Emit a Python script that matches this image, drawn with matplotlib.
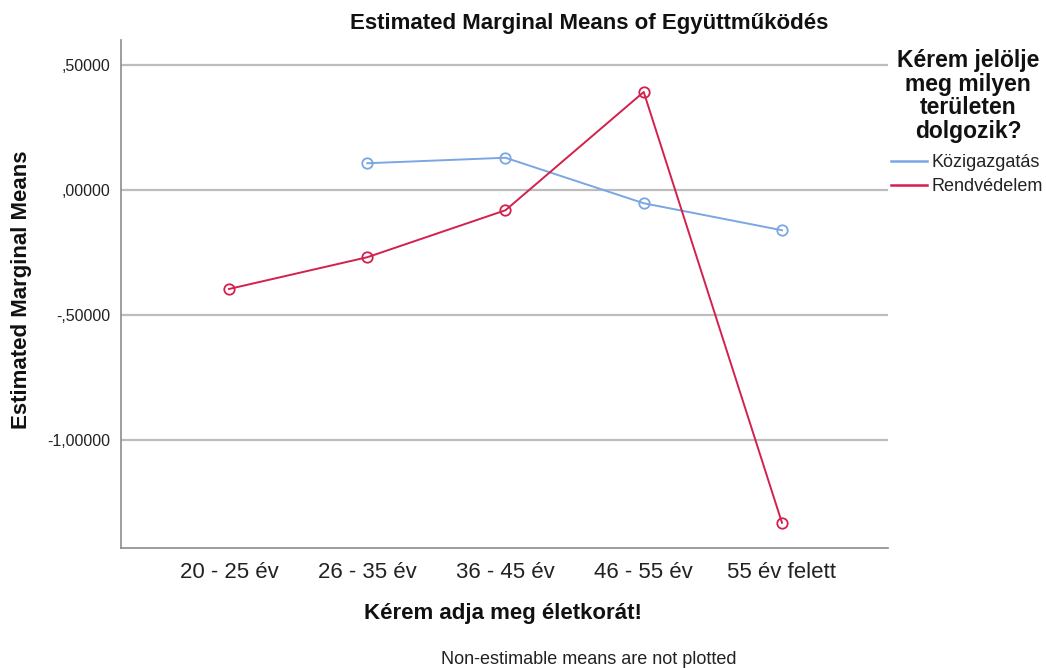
import matplotlib
matplotlib.use("Agg")
import matplotlib.pyplot as plt
import numpy as np

categories = ["20 - 25 év", "26 - 35 év", "36 - 45 év", "46 - 55 év", "55 év felett"]
kozig = [np.nan, 0.107, 0.129, -0.053, -0.161]
rend = [-0.396, -0.269, -0.081, 0.392, -1.331]
yticks = [0.5, 0.0, -0.5, -1.0]
ytick_labels = [",50000", ",00000", "-,50000", "-1,00000"]

plt.rcParams['font.family'] = ['Liberation Sans', 'DejaVu Sans']

W, H = 1046, 668
fig = plt.figure(figsize=(W / 100, H / 100), dpi=100)
ax = fig.add_axes([121 / W, 1 - 548 / H, (888 - 121) / W, (548 - 40) / H])

blue = "#7aa6e3"
red = "#d4204c"
x = np.arange(len(categories))
ax.plot(x, kozig, color=blue, lw=1.4, marker="o", ms=7.5, mfc="none", mec=blue, mew=1.3, label="Közigazgatás")
ax.plot(x, rend, color=red, lw=1.4, marker="o", ms=7.5, mfc="none", mec=red, mew=1.3, label="Rendvédelem")

ax.set_xlim(-0.781, 4.767)
ax.set_ylim(-1.432, 0.6)
ax.set_yticks(yticks)
ax.set_yticklabels(ytick_labels, fontsize=11.5, color="#222222")
ax.set_xticks(x)
ax.set_xticklabels(categories, fontsize=16, color="#222222")
ax.tick_params(axis="y", length=0, pad=8)
ax.tick_params(axis="x", length=0, pad=10)
for yv in yticks:
    ax.axhline(yv, color="#bdbdbd", lw=1.6, zorder=0)
for s in ["top", "right"]:
    ax.spines[s].set_visible(False)
for s in ["left", "bottom"]:
    ax.spines[s].set_color("#8c8c8c")
    ax.spines[s].set_linewidth(1.2)

fig.text(589 / W, 1 - 23 / H, "Estimated Marginal Means of Együttműködés", ha="center", va="center",
         fontsize=16, fontweight="bold", color="#111111")
fig.text(22 / W, 1 - 290 / H, "Estimated Marginal Means", ha="center", va="center", rotation=90,
         fontsize=16, fontweight="bold", color="#111111")
fig.text(503 / W, 1 - 614 / H, "Kérem adja meg életkorát!", ha="center", va="center",
         fontsize=16, fontweight="bold", color="#111111")
fig.text(589 / W, 1 - 659 / H, "Non-estimable means are not plotted", ha="center", va="center",
         fontsize=13, color="#222222")

fig.text(968 / W, 1 - 96 / H, "Kérem jelölje\nmeg milyen\nterületen\ndolgozik?", ha="center", va="center",
         multialignment="center", fontsize=16.5, fontweight="bold", color="#111111", linespacing=1.02)

leg = ax.legend(loc="upper left", bbox_to_anchor=(891 / W, 1 - 154 / H), bbox_transform=fig.transFigure,
                frameon=False, fontsize=13, handlelength=2.0, handletextpad=0.25,
                labelspacing=0.4, borderaxespad=0, borderpad=0)
for h in leg.legend_handles:
    h.set_marker("")
    h.set_linewidth(1.8)
for t in leg.get_texts():
    t.set_color("#222222")

fig.savefig("out.png", dpi=100)
